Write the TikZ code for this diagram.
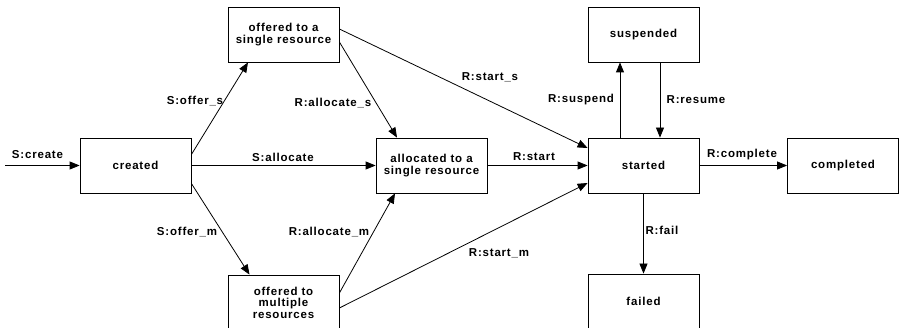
\documentclass[tikz,border=0pt]{standalone}
\usepackage{fontspec}
\newfontfamily\lbl{Liberation Sans}[LetterSpace=7]
\usetikzlibrary{arrows.meta}

\begin{document}
\begin{tikzpicture}[x=1pt,y=-1pt,
  txt/.style={font=\lbl\bfseries\fontsize{11.5}{11.5}\selectfont},
  state/.style={txt, draw, line width=0.8pt, minimum width=111pt,
    minimum height=55pt, inner sep=0pt, align=center},
  edge/.style={line width=0.8pt, -{Triangle[length=10pt,width=8pt]}},
  lab/.style={txt, inner sep=0pt}]

\path[use as bounding box, clip] (0,0) rectangle (899,328);

% states
\node[state] (created) at (135.5,165.5) {created};
\node[state] (offs)    at (283.5,34.5)  {offered to a\\single resource};
\node[state] (offm)    at (283.5,302.5) {offered to\\multiple\\resources};
\node[state] (alloc)   at (431.5,165.5) {allocated to a\\single resource};
\node[state] (started) at (643.5,165.5) {started};
\node[state] (susp)    at (643.5,34.5)  {suspended};
\node[state] (compl)   at (843,165.5)   {completed};
\node[state] (failed)  at (643.5,301.5) {failed};

\coordinate (in) at (5,165.5);

% transitions
\draw[edge] (in) -- (created.west);
\draw[edge] ([yshift=11pt]created.east) -- ([xshift=-35.5pt]offs.south);
\draw[edge] (created.east) -- (alloc.west);
\draw[edge] ([yshift=-18pt]created.east) -- ([xshift=-34pt]offm.north);
\draw[edge] ([yshift=-7.5pt]offs.east) -- ([xshift=-34.5pt]alloc.north);
\draw[edge] ([yshift=5.5pt]offs.east) -- ([yshift=17.5pt]started.west);
\draw[edge] (alloc.east) -- (started.west);
\draw[edge] ([yshift=9.5pt]offm.east) -- ([xshift=-36.5pt]alloc.south);
\draw[edge] ([yshift=-5.5pt]offm.east) -- ([yshift=-17.5pt]started.west);
\draw[edge] ([xshift=-23.5pt]started.north) -- ([xshift=-23.5pt]susp.south);
\draw[edge] ([xshift=16.5pt]susp.south) -- ([xshift=16.5pt]started.north);
\draw[edge] (started.east) -- (compl.west);
\draw[edge] (started.south) -- (failed.north);

% transition labels
\node[lab] (lcreate)  at (37.5,155)  {S:create};
\node[lab] (loffs)    at (195,101)   {S:offer\_s};
\node[lab] (lalloc)   at (283,157)   {S:allocate};
\node[lab] (loffm)    at (187,232)   {S:offer\_m};
\node[lab] (lallocs)  at (333,103)   {R:allocate\_s};
\node[lab] (lallocm)  at (329,232)   {R:allocate\_m};
\node[lab] (lstarts)  at (490,77)    {R:start\_s};
\node[lab] (lstart)   at (534,157)   {R:start};
\node[lab] (lstartm)  at (499,253)   {R:start\_m};
\node[lab] (lsusp)    at (581,100)   {R:suspend};
\node[lab] (lresume)  at (696,100)   {R:resume};
\node[lab] (lcompl)   at (742,155)   {R:complete};
\node[lab] (lfail)    at (662,230)   {R:fail};
\end{tikzpicture}
\end{document}
